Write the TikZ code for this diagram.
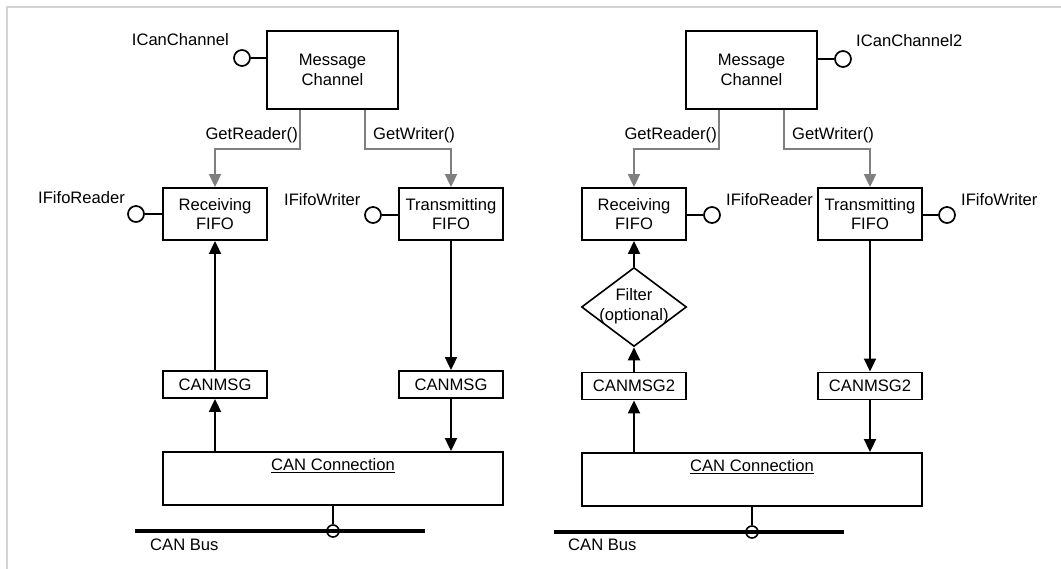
\documentclass[tikz,border=0pt]{standalone}
\usepackage{fontspec}
\setmainfont{Liberation Sans}
\usetikzlibrary{arrows.meta,shapes.geometric}
\newcommand{\lblfont}{\fontsize{16.6}{19.5}\selectfont}
\definecolor{framecol}{HTML}{D4D4D4}
\definecolor{getcol}{HTML}{7F7F7F}
\tikzset{
  box/.style={draw, line width=1.9pt, inner sep=0pt, align=center, font=\lblfont},
  lbl/.style={inner sep=0pt, align=center, font=\lblfont},
  lolli/.style={circle, draw, line width=1.7pt, fill=white, minimum size=16pt, inner sep=0pt},
  stub/.style={line width=1.7pt},
  getarrow/.style={draw=getcol, line width=2pt, -{Triangle[length=13pt,width=12pt]}, color=getcol},
  flow/.style={line width=2pt, -{Triangle[length=13pt,width=12pt]}},
  busline/.style={line width=4pt},
  buscirc/.style={circle, draw, line width=1.6pt, minimum size=12pt, inner sep=0pt},
  tap/.style={line width=1.3pt},
}
\begin{document}
\begin{tikzpicture}[x=1pt, y=-1pt]
\useasboundingbox (0,0) rectangle (1061,569);
% outer frame
\draw[framecol, line width=1.5pt] (7,569) -- (7,7) -- (1061,7);

% ================= first channel =================
\node[box, minimum width=131, minimum height=78] (mcA) at (332.5,70) {Message\\Channel};
\node[box, minimum width=104, minimum height=52] (rfA) at (215,214) {Receiving\\FIFO};
\node[box, minimum width=104, minimum height=52] (tfA) at (451,214) {Transmitting\\FIFO};
\node[box, minimum width=104, minimum height=27] (cmrA) at (215,384.5) {CANMSG};
\node[box, minimum width=104, minimum height=27] (cmtA) at (451,384.5) {CANMSG};
\node[box, minimum width=340, minimum height=53] (ccA) at (333,478.5) {};
\node[lbl] (ccAt) at (333,466) {\underline{CAN Connection}};

% interfaces
\node[lolli] (icA) at (242,58) {};
\draw[stub] (icA) -- (icA -| mcA.west);
\node[lbl, anchor=east] (icAt) at (229,40) {ICanChannel};
\node[lolli] (irA) at (136,214) {};
\draw[stub] (irA) -- (irA -| rfA.west);
\node[lbl, anchor=west] (irAt) at (38,198) {IFifoReader};
\node[lolli] (iwA) at (373,215) {};
\draw[stub] (iwA) -- (iwA -| tfA.west);
\node[lbl, anchor=west] (iwAt) at (284,199.5) {IFifoWriter};

% factory calls
\coordinate (grA) at (300,149);
\coordinate (gwA) at (365,149);
\draw[getarrow] (mcA.south -| grA) -- (grA) -| (rfA.north);
\draw[getarrow] (mcA.south -| gwA) -- (gwA) -| (tfA.north);
\node[lbl, anchor=east] (grAt) at (298,135) {GetReader()};
\node[lbl, anchor=west] (gwAt) at (373,135) {GetWriter()};

% message flow
\draw[flow] (cmrA.north) -- (rfA.south);
\draw[flow] (ccA.north -| cmrA) -- (cmrA.south);
\draw[flow] (tfA.south) -- (cmtA.north);
\draw[flow] (cmtA.south) -- (ccA.north -| cmtA);

% bus
\coordinate (busAl) at (135,531);
\coordinate (busAr) at (425,531);
\draw[busline] (busAl) -- (busAr);
\node[buscirc] (bcA) at (333,531) {};
\draw[tap] (ccA.south) -- (bcA.north);
\node[lbl, anchor=west] (busAt) at (150,545) {CAN Bus};

% ================= second channel =================
\node[box, minimum width=131, minimum height=78] (mcB) at (751.5,70) {Message\\Channel};
\node[box, minimum width=104, minimum height=52] (rfB) at (634,214) {Receiving\\FIFO};
\node[box, minimum width=104, minimum height=52] (tfB) at (870,214) {Transmitting\\FIFO};
\node[diamond, draw, line width=1.6pt, minimum width=105, minimum height=79, inner sep=0pt] (fltB) at (634,307) {};
\node[lbl] (fltBt) at (634,306) {Filter\\(optional)};
\node[box, minimum width=104, minimum height=27] (cmrB) at (634,386) {CANMSG2};
\node[box, minimum width=104, minimum height=27] (cmtB) at (870,386) {CANMSG2};
\node[box, minimum width=340, minimum height=53] (ccB) at (752,479.5) {};
\node[lbl] (ccBt) at (752,467) {\underline{CAN Connection}};

% interfaces
\node[lolli] (icB) at (843,59) {};
\draw[stub] (icB) -- (icB -| mcB.east);
\node[lbl, anchor=west] (icBt) at (856,41) {ICanChannel2};
\node[lolli] (irB) at (712,215) {};
\draw[stub] (irB) -- (irB -| rfB.east);
\node[lbl, anchor=west] (irBt) at (726,200) {IFifoReader};
\node[lolli] (iwB) at (947,215) {};
\draw[stub] (iwB) -- (iwB -| tfB.east);
\node[lbl, anchor=west] (iwBt) at (961,200) {IFifoWriter};

% factory calls
\coordinate (grB) at (719,149);
\coordinate (gwB) at (784,149);
\draw[getarrow] (mcB.south -| grB) -- (grB) -| (rfB.north);
\draw[getarrow] (mcB.south -| gwB) -- (gwB) -| (tfB.north);
\node[lbl, anchor=east] (grBt) at (717,135) {GetReader()};
\node[lbl, anchor=west] (gwBt) at (792,135) {GetWriter()};

% message flow
\draw[flow] (fltB.north) -- (rfB.south);
\draw[flow] (cmrB.north) -- (fltB.south);
\draw[flow] (ccB.north -| cmrB) -- (cmrB.south);
\draw[flow] (tfB.south) -- (cmtB.north);
\draw[flow] (cmtB.south) -- (ccB.north -| cmtB);

% bus
\coordinate (busBl) at (554,532);
\coordinate (busBr) at (844,532);
\draw[busline] (busBl) -- (busBr);
\node[buscirc] (bcB) at (752,532) {};
\draw[tap] (ccB.south) -- (bcB.north);
\node[lbl, anchor=west] (busBt) at (568,545) {CAN Bus};
\end{tikzpicture}
\end{document}
